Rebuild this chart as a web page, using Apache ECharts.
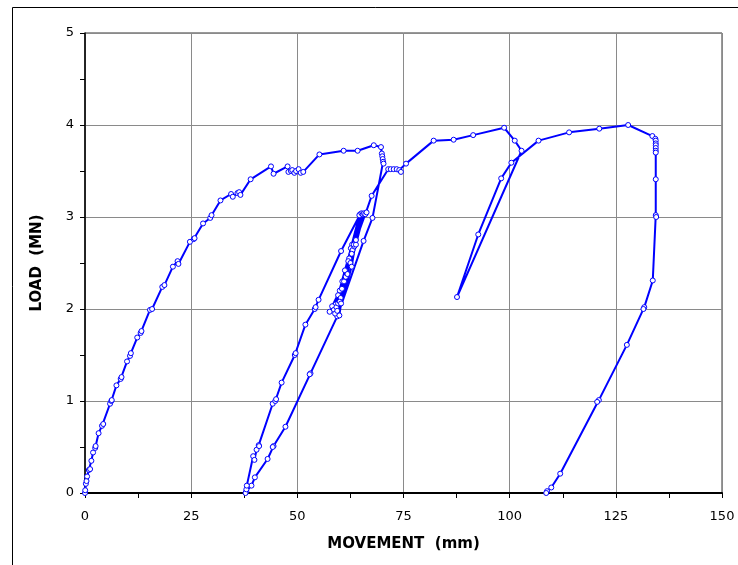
<!DOCTYPE html>
<html>
<head>
<meta charset="utf-8">
<script src="https://cdn.jsdelivr.net/npm/echarts@6/dist/echarts.min.js"></script>
<style>html,body{margin:0;padding:0;background:#fff}#c{width:738px;height:565px}</style>
</head>
<body>
<div id="c"></div>
<script>
// Tick labels
var xTicks = [0, 25, 50, 75, 100, 125, 150];
var yTicks = [0, 1, 2, 3, 4, 5];
var xTitle = 'MOVEMENT  (mm)';
var yTitle = 'LOAD  (MN)';

// Movement (mm), Load (MN) in test order
var loading1 = [[0,0],[0.05,0.03],[0.2,0.1],[0.35,0.13],[0.5,0.18],[0.9,0.25],[1.2,0.26],[1.5,0.35],[1.9,0.44],[2.4,0.49],[2.5,0.51],[3.2,0.65],[4.0,0.73],[4.3,0.75],[5.9,0.97],[6.2,1.0],[6.3,1.01],[7.4,1.17],[8.4,1.24],[8.6,1.26],[9.9,1.43],[10.6,1.49],[10.8,1.52],[12.3,1.69],[13.1,1.74],[13.3,1.76],[15.3,1.99],[15.8,2.0],[18.2,2.24],[18.7,2.26],[20.7,2.46],[21.8,2.52],[22.0,2.49],[24.7,2.73],[25.6,2.76],[25.8,2.77],[27.8,2.93],[29.5,2.99],[29.8,3.02],[31.9,3.18],[34.4,3.25],[34.8,3.22],[35.9,3.26],[36.3,3.27],[36.6,3.24],[39.0,3.41],[43.8,3.55],[44.4,3.47],[47.7,3.55],[47.9,3.49],[48.5,3.5],[48.8,3.51],[49.3,3.48],[49.7,3.5],[50.3,3.52],[50.8,3.48],[51.4,3.49],[55.2,3.68],[60.9,3.72],[64.2,3.72],[68.0,3.78],[69.7,3.76],[69.9,3.69],[70.0,3.66],[70.1,3.63],[70.2,3.6],[70.3,3.58]];
var unloading1 = [[67.7,2.99],[65.6,2.74],[59.4,1.92],[53.1,1.3],[52.9,1.29],[47.2,0.72],[44.4,0.51],[44.2,0.5],[43.0,0.37],[40.0,0.17],[39.2,0.08],[38.0,0.02],[37.8,0.0]];
var reloading1 = [[38.0,0.04],[38.1,0.08],[39.6,0.4],[39.9,0.36],[40.4,0.47],[40.9,0.52],[41.0,0.51],[44.2,0.97],[44.8,1.0],[45.0,1.02],[46.3,1.2],[49.4,1.5],[49.6,1.52],[51.9,1.83],[54.1,2.0],[54.3,2.02],[55.0,2.1],[60.3,2.63],[64.8,3.03]];
var cycles = [[62.9,2.7],[61.2,2.42],[59.0,2.05],[58.2,2.03],[60.0,2.2],[62.2,2.55],[64.6,3.02],[62.6,2.66],[60.6,2.3],[58.6,1.99],[57.6,1.97],[59.6,2.15],[62.0,2.52],[65.1,3.04],[63.0,2.64],[61.0,2.3],[59.2,2.02],[58.9,1.95],[60.5,2.22],[62.8,2.6],[65.4,3.03],[63.4,2.68],[61.4,2.35],[59.6,2.06],[59.4,1.98],[60.2,2.12],[62.5,2.5],[63.3,2.7],[65.7,3.04],[63.8,2.7],[61.8,2.38],[60.0,2.08],[59.9,1.93],[60.3,2.06],[62.8,2.46],[63.8,2.75],[66.0,3.03],[66.3,3.05]];
var loading2 = [[67.5,3.23],[71.4,3.52],[72.0,3.52],[72.7,3.52],[73.4,3.52],[74.0,3.51],[74.4,3.49],[75.6,3.58],[82.1,3.83],[86.8,3.84],[91.4,3.89],[98.7,3.97],[101.2,3.83],[102.8,3.72]];
var unloading2 = [[87.6,2.13]];
var loading3 = [[92.6,2.81],[98.0,3.42],[100.4,3.59],[106.8,3.83],[114.0,3.92],[121.1,3.96],[127.9,4.0],[133.6,3.88],[134.3,3.85],[134.4,3.83],[134.4,3.8],[134.4,3.78],[134.4,3.75],[134.4,3.72],[134.4,3.7]];
var unloading3 = [[134.4,3.41],[134.4,3.02],[134.5,3.0],[133.7,2.31],[131.7,2.02],[131.5,2.0],[127.6,1.61],[121.0,1.01],[120.6,0.99],[111.9,0.21],[109.8,0.06],[108.8,0.02],[108.6,0.0]];

var allPoints = [].concat(loading1, unloading1, reloading1, cycles, loading2, unloading2, loading3, unloading3);

var chart = echarts.init(document.getElementById('c'), null, {renderer: 'canvas'});
var tickFont = {fontFamily: 'DejaVu Sans', fontSize: 13, color: '#000'};
chart.setOption({
  animation: false,
  backgroundColor: '#fff',
  graphic: [{
    type: 'rect', silent: true,
    shape: {x: 12.5, y: 7.5, width: 760, height: 600},
    style: {fill: 'none', stroke: '#000', lineWidth: 1}
  }],
  grid: {left: 85, right: 16, top: 33, bottom: 72, show: true, borderColor: '#333', borderWidth: 1, backgroundColor: 'transparent'},
  xAxis: {
    type: 'value', min: xTicks[0], max: xTicks[xTicks.length - 1], interval: 25,
    name: xTitle, nameLocation: 'middle', nameGap: 44,
    nameTextStyle: {fontFamily: 'DejaVu Sans', fontSize: 15, fontWeight: 'bold', color: '#000'},
    axisLine: {show: true, lineStyle: {color: '#000', width: 2}},
    axisTick: {show: true, inside: false, length: 5, lineStyle: {color: '#000'}},
    minorTick: {show: true, splitNumber: 2, length: 5, lineStyle: {color: '#000'}},
    axisLabel: Object.assign({margin: 17}, tickFont),
    splitLine: {show: true, lineStyle: {color: '#8a8a8a', width: 1}}
  },
  yAxis: {
    type: 'value', min: yTicks[0], max: yTicks[yTicks.length - 1], interval: 1,
    name: yTitle, nameLocation: 'middle', nameGap: 40, nameRotate: 90,
    nameTextStyle: {fontFamily: 'DejaVu Sans', fontSize: 15, fontWeight: 'bold', color: '#000'},
    axisLine: {show: true, lineStyle: {color: '#000', width: 1.5}},
    axisTick: {show: true, inside: false, length: 5, lineStyle: {color: '#000'}},
    minorTick: {show: true, splitNumber: 2, length: 5, lineStyle: {color: '#000'}},
    axisLabel: Object.assign({margin: 11}, tickFont),
    splitLine: {show: true, lineStyle: {color: '#8a8a8a', width: 1}}
  },
  series: [{
    type: 'line',
    data: allPoints,
    symbol: 'circle',
    symbolSize: 5,
    showAllSymbol: true,
    lineStyle: {color: '#0000ff', width: 2},
    itemStyle: {color: '#ffffff', borderColor: '#0000ff', borderWidth: 1}
  }]
});
</script>
</body>
</html>
